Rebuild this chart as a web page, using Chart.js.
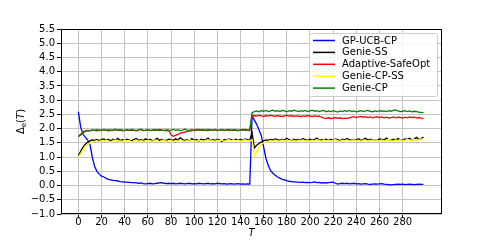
<!DOCTYPE html>
<html>
<head>
<meta charset="utf-8">
<title>Delta_e(T)</title>
<script src="https://cdn.jsdelivr.net/npm/chart.js@4.4.0/dist/chart.umd.min.js"></script>
<style>
html, body { margin:0; padding:0; background:#fff; }
</style>
</head>
<body>
<canvas id="myChart" width="491" height="245"></canvas>
<script>
// time steps (every second round)
const T = [0,2,4,6,8,10,12,14,16,18,20,22,24,26,28,30,32,34,36,38,40,42,44,46,48,50,52,54,56,58,
60,62,64,66,68,70,72,74,76,78,80,82,84,86,88,90,92,94,96,98,100,102,104,106,108,110,112,114,116,118,
120,122,124,126,128,130,132,134,136,138,140,142,144,146,148,150,152,154,156,158,160,162,164,166,168,170,172,174,176,178,
180,182,184,186,188,190,192,194,196,198,200,202,204,206,208,210,212,214,216,218,220,222,224,226,228,230,232,234,236,238,
240,242,244,246,248,250,252,254,256,258,260,262,264,266,268,270,272,274,276,278,280,282,284,286,288,290,292,294,296,298];

const xTicks = [0,20,40,60,80,100,120,140,160,180,200,220,240,260,280];
const yTicks = [-1.0,-0.5,0.0,0.5,1.0,1.5,2.0,2.5,3.0,3.5,4.0,4.5,5.0,5.5];

const names = ["GP-UCB-CP", "Genie-SS", "Adaptive-SafeOpt", "Genie-CP-SS", "Genie-CP"];
const colors = ["#0000ff", "#000000", "#ff0000", "#ffff00", "#008000"];

const gpUcbCp = [2.60,2.05,1.80,1.70,1.60,1.45,1.00,0.68,0.50,0.40,0.33,0.30,0.25,0.22,0.20,0.18,0.17,0.16,0.14,0.13,
0.12,0.12,0.11,0.10,0.10,0.09,0.08,0.09,0.07,0.06,0.07,0.08,0.06,0.07,0.08,0.09,0.10,0.08,0.07,0.08,
0.07,0.08,0.06,0.07,0.08,0.07,0.06,0.07,0.08,0.06,0.07,0.06,0.08,0.07,0.06,0.07,0.08,0.06,0.07,0.06,
0.08,0.07,0.06,0.07,0.05,0.06,0.07,0.05,0.06,0.07,0.05,0.06,0.05,0.06,0.05,
2.45,2.30,2.15,1.95,1.75,1.35,0.95,0.70,0.52,0.43,0.36,0.30,0.26,0.22,0.20,0.17,0.15,0.14,0.13,0.12,
0.12,0.11,0.12,0.10,0.11,0.10,0.11,0.13,0.10,0.11,0.09,0.10,0.09,0.10,0.11,0.12,0.08,0.05,0.07,0.08,
0.07,0.08,0.06,0.07,0.08,0.06,0.07,0.05,0.06,0.07,0.05,0.04,0.05,0.06,0.05,0.06,0.07,0.05,0.04,0.03,
0.02,0.03,0.04,0.05,0.04,0.05,0.03,0.04,0.05,0.04,0.03,0.04,0.05,0.04,0.04];

const genieSS = [1.05,1.20,1.35,1.45,1.52,1.57,1.60,1.59,1.62,1.58,1.61,1.64,1.59,1.62,1.57,1.63,1.60,1.66,1.58,1.61,
1.59,1.63,1.60,1.57,1.62,1.65,1.59,1.61,1.58,1.64,1.60,1.62,1.57,1.61,1.66,1.59,1.62,1.60,1.58,1.63,
1.61,1.59,1.64,1.60,1.68,1.61,1.58,1.62,1.60,1.65,1.59,1.62,1.57,1.63,1.60,1.61,1.67,1.59,1.62,1.58,
1.63,1.60,1.55,1.62,1.59,1.64,1.61,1.58,1.63,1.60,1.62,1.59,1.64,1.61,1.60,
1.85,1.32,1.42,1.48,1.53,1.57,1.60,1.59,1.62,1.60,1.64,1.61,1.59,1.63,1.60,1.66,1.61,1.58,1.63,1.60,
1.62,1.59,1.65,1.61,1.58,1.63,1.60,1.62,1.67,1.59,1.61,1.58,1.63,1.60,1.62,1.59,1.64,1.61,1.57,1.63,
1.60,1.65,1.61,1.59,1.62,1.60,1.64,1.58,1.62,1.66,1.60,1.63,1.59,1.61,1.58,1.64,1.62,1.60,1.67,1.61,
1.59,1.63,1.60,1.65,1.61,1.58,1.64,1.62,1.66,1.60,1.63,1.69,1.62,1.65,1.70];

const adaptiveSafeOpt = [1.72,1.80,1.88,1.92,1.94,1.93,1.95,1.94,1.92,1.95,1.93,1.96,1.94,1.92,1.95,1.93,1.96,1.94,1.95,1.92,
1.94,1.96,1.93,1.95,1.94,1.92,1.95,1.97,1.93,1.94,1.96,1.93,1.95,1.94,1.96,1.93,1.95,1.94,1.92,1.94,
1.78,1.73,1.76,1.80,1.84,1.86,1.88,1.90,1.91,1.93,1.95,1.97,1.94,1.96,1.95,1.93,1.97,1.95,1.94,1.96,
1.93,1.95,1.97,1.94,1.96,1.93,1.95,1.94,1.96,1.93,1.95,1.97,1.94,1.95,1.93,
2.45,2.46,2.44,2.47,2.45,2.43,2.46,2.44,2.47,2.45,2.43,2.46,2.44,2.42,2.45,2.47,2.44,2.46,2.43,2.45,
2.44,2.42,2.45,2.43,2.46,2.44,2.42,2.45,2.43,2.44,2.40,2.37,2.36,2.38,2.35,2.37,2.39,2.36,2.38,2.35,
2.37,2.36,2.38,2.40,2.42,2.39,2.41,2.43,2.40,2.42,2.39,2.41,2.38,2.40,2.42,2.39,2.41,2.38,2.40,2.37,
2.39,2.41,2.38,2.40,2.39,2.37,2.40,2.38,2.41,2.39,2.40,2.38,2.39,2.37,2.36];

const genieCPSS = [1.00,1.12,1.25,1.38,1.45,1.50,1.53,1.55,1.57,1.54,1.58,1.55,1.59,1.56,1.53,1.58,1.60,1.55,1.57,1.54,
1.59,1.56,1.58,1.53,1.57,1.60,1.55,1.58,1.56,1.54,1.59,1.57,1.55,1.60,1.56,1.53,1.58,1.61,1.55,1.57,
1.59,1.54,1.58,1.56,1.60,1.57,1.55,1.59,1.62,1.56,1.58,1.54,1.60,1.57,1.55,1.59,1.56,1.61,1.58,1.55,
1.59,1.57,1.60,1.54,1.58,1.62,1.56,1.59,1.57,1.60,1.55,1.58,1.61,1.57,1.59,
1.60,1.05,1.20,1.35,1.45,1.50,1.53,1.55,1.58,1.56,1.59,1.57,1.55,1.60,1.57,1.59,1.56,1.61,1.58,1.55,
1.59,1.57,1.60,1.56,1.58,1.54,1.59,1.57,1.61,1.58,1.55,1.59,1.57,1.60,1.56,1.58,1.62,1.57,1.55,1.59,
1.57,1.60,1.56,1.58,1.61,1.57,1.59,1.55,1.60,1.58,1.56,1.59,1.57,1.61,1.58,1.55,1.60,1.57,1.59,1.62,
1.58,1.56,1.60,1.58,1.61,1.57,1.59,1.63,1.58,1.60,1.62,1.59,1.61,1.64,1.62];

const genieCP = [1.72,1.78,1.85,1.90,1.93,1.92,1.95,1.94,1.96,1.93,1.95,1.97,1.94,1.96,1.93,1.95,1.98,1.94,1.96,1.95,
1.93,1.96,1.94,1.97,1.95,1.93,1.96,1.98,1.94,1.95,1.97,1.93,1.95,1.96,1.94,1.97,1.95,1.93,1.96,1.94,
1.95,1.97,1.94,1.96,1.93,1.95,1.98,1.95,1.94,1.96,1.93,1.95,1.97,1.94,1.96,1.95,1.93,1.96,1.94,1.97,
1.95,1.94,1.96,1.93,1.95,1.97,1.94,1.96,1.95,1.93,1.96,1.94,1.97,1.95,1.96,
2.55,2.60,2.62,2.59,2.63,2.61,2.64,2.60,2.62,2.65,2.61,2.63,2.60,2.64,2.62,2.59,2.63,2.61,2.65,2.62,
2.60,2.63,2.61,2.64,2.60,2.62,2.65,2.61,2.63,2.60,2.62,2.64,2.59,2.62,2.60,2.63,2.61,2.58,2.62,2.60,
2.63,2.61,2.64,2.60,2.62,2.59,2.61,2.63,2.60,2.62,2.64,2.61,2.59,2.62,2.60,2.63,2.61,2.62,2.60,2.63,
2.61,2.64,2.66,2.62,2.60,2.61,2.63,2.60,2.62,2.59,2.61,2.60,2.58,2.57,2.55];

const series = [gpUcbCp, genieSS, adaptiveSafeOpt, genieCPSS, genieCP];

const FONT = "DejaVu Sans";

function toPoints(vals) {
    return vals.map((v, i) => ({x: T[i], y: v}));
}

const datasets = series.map((vals, i) => ({
    label: names[i],
    data: toPoints(vals),
    borderColor: colors[i],
    backgroundColor: colors[i],
    borderWidth: 1.3,
    pointRadius: 0,
    tension: 0,
    order: series.length - i   // later series drawn on top, like matplotlib
}));

// frame + legend drawn over the lines
const frameLegend = {
    id: 'frameLegend',
    afterDatasetsDraw(chart) {
        const ctx = chart.ctx, a = chart.chartArea;
        ctx.save();
        ctx.strokeStyle = '#000';
        ctx.lineWidth = 1;
        ctx.strokeRect(Math.round(a.left) + 0.5, Math.round(a.top) + 0.5,
            Math.round(a.right - a.left) - 1, Math.round(a.bottom - a.top) - 1);

        const bw = 128, bh = 63;
        const bx = Math.round(a.right) - 5 - bw, by = Math.round(a.top) + 4;
        ctx.beginPath();
        ctx.roundRect(bx + 0.5, by + 0.5, bw, bh, 2);
        ctx.fillStyle = 'rgba(255,255,255,0.85)';
        ctx.fill();
        ctx.strokeStyle = '#cccccc';
        ctx.stroke();

        ctx.font = '10px "' + FONT + '"';
        ctx.textBaseline = 'middle';
        ctx.textAlign = 'left';
        for (let i = 0; i < names.length; i++) {
            const y = by + 7.5 + i * 11.9;
            ctx.beginPath();
            ctx.moveTo(bx + 4, y);
            ctx.lineTo(bx + 26, y);
            ctx.strokeStyle = colors[i];
            ctx.lineWidth = 1.5;
            ctx.stroke();
            ctx.fillStyle = '#000';
            ctx.fillText(names[i], bx + 33, y + 0.5);
        }
        ctx.restore();
    },
    afterDraw(chart) {
        const ctx = chart.ctx, a = chart.chartArea;
        ctx.save();
        ctx.fillStyle = '#000';
        // x title
        ctx.font = 'italic 10px "' + FONT + '"';
        ctx.textAlign = 'center';
        ctx.textBaseline = 'middle';
        ctx.fillText('T', (a.left + a.right) / 2, 233.5);

        // y title: Δ_e(T)
        ctx.translate(20, (a.top + a.bottom) / 2);
        ctx.rotate(-Math.PI / 2);
        ctx.textAlign = 'left';
        ctx.textBaseline = 'alphabetic';
        const f1 = '10px "' + FONT + '"', fs = '7px "' + FONT + '"', fi = 'italic 10px "' + FONT + '"';
        ctx.font = f1; const w1 = ctx.measureText('\u0394').width;
        ctx.font = fs; const w2 = ctx.measureText('e').width;
        ctx.font = f1; const w3 = ctx.measureText('(').width;
        ctx.font = fi; const w4 = ctx.measureText('T').width;
        ctx.font = f1; const w5 = ctx.measureText(')').width;
        let x = -(w1 + w2 + w3 + w4 + w5) / 2;
        const base = 3.5;
        ctx.font = f1; ctx.fillText('\u0394', x, base); x += w1;
        ctx.font = fs; ctx.fillText('e', x, base + 2); x += w2;
        ctx.font = f1; ctx.fillText('(', x, base); x += w3;
        ctx.font = fi; ctx.fillText('T', x, base); x += w4;
        ctx.font = f1; ctx.fillText(')', x, base);
        ctx.restore();
    }
};

new Chart(document.getElementById('myChart'), {
    type: 'line',
    data: { datasets: datasets },
    options: {
        responsive: false,
        animation: false,
        layout: { padding: { top: 29, right: 49, left: 0, bottom: 0 } },
        plugins: { legend: { display: false }, tooltip: { enabled: false } },
        scales: {
            x: {
                type: 'linear',
                min: -15,
                max: 314,
                afterBuildTicks: s => { s.ticks = xTicks.map(v => ({value: v})); },
                afterFit: s => { s.height = 31; },
                ticks: {
                    font: { family: FONT, size: 10 },
                    color: '#000',
                    padding: -2,
                    maxRotation: 0,
                    autoSkip: false,
                    callback: v => String(v)
                },
                grid: { color: '#c4c4c4', lineWidth: 1, tickLength: 4, tickColor: '#000' },
                border: { display: false }
            },
            y: {
                min: -1,
                max: 5.5,
                afterBuildTicks: s => { s.ticks = yTicks.map(v => ({value: v})); },
                afterFit: s => { s.width = 61; },
                ticks: {
                    font: { family: FONT, size: 10 },
                    color: '#000',
                    padding: 2,
                    autoSkip: false,
                    callback: v => v.toFixed(1).replace('-', '\u2212')
                },
                grid: { color: '#c4c4c4', lineWidth: 1, tickLength: 4, tickColor: '#000' },
                border: { display: false }
            }
        }
    },
    plugins: [frameLegend]
});
</script>
</body>
</html>
